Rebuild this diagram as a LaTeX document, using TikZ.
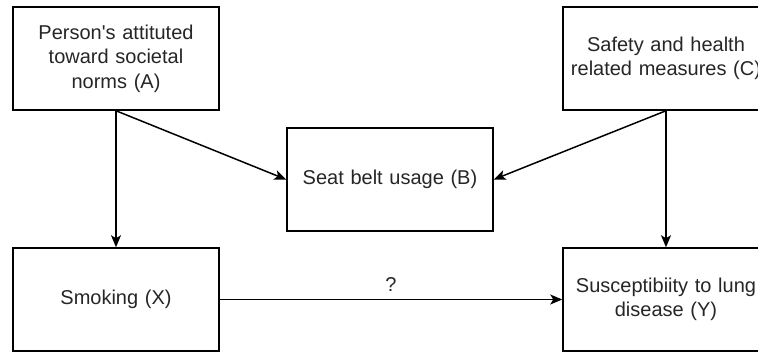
\documentclass[tikz,border=0pt]{standalone}
\usepackage{fontspec}
\setmainfont{Liberation Sans}
\usetikzlibrary{arrows.meta}
\begin{document}
\begin{tikzpicture}[x=1pt,y=-1pt,
  box/.style={draw, line width=1.5pt, fill=white, minimum width=206pt, minimum height=103pt,
    inner sep=0pt, align=center, text width=200pt, text=black!85,
    font=\fontsize{20}{24.5}\selectfont},
  link/.style={line width=1.5pt, -{Stealth[length=12pt,width=10pt,inset=3pt]}},
  lbl/.style={font=\fontsize{20}{24.5}\selectfont, text=black!85}]
  % page area
  \fill[white] (0,0) rectangle (758,351);
  \clip (0,0) rectangle (758,351);
  % boxes
  \node[box] (A) at (116,58.5) {Person\textquotesingle s attituted\\toward societal\\norms (A)};
  \node[box] (C) at (666,58.5) {Safety and health\\related measures (C)};
  \node[box] (B) at (390,179.5) {Seat belt usage (B)};
  \node[box] (X) at (116,299.5) {Smoking (X)};
  \node[box] (Y) at (666,299.5) {Susceptibiity to lung\\disease (Y)};
  % connectors
  \draw[link] (A.south) -- (X.north);
  \draw[link] (A.south) -- (B.west);
  \draw[link] (C.south) -- (Y.north);
  \draw[link] (C.south) -- (B.east);
  \draw[link] (X.east) -- node[lbl, above=4pt] (q) {?} (Y.west);
\end{tikzpicture}
\end{document}
